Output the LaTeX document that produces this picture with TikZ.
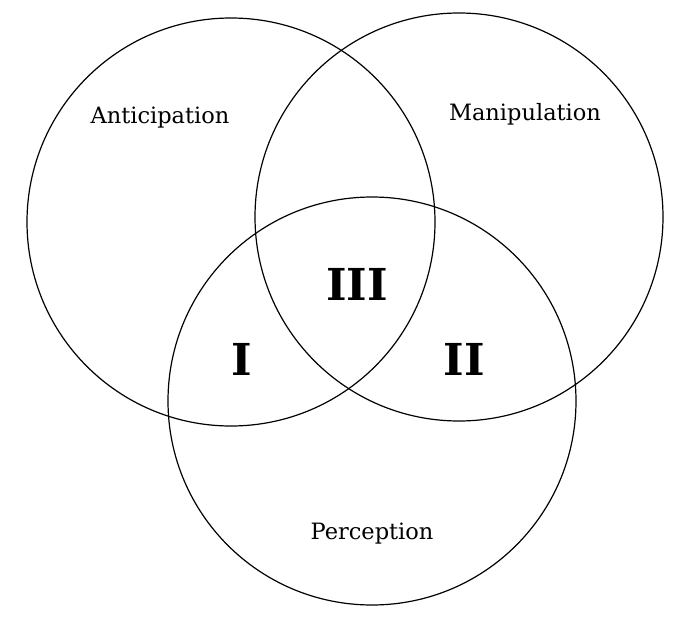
\documentclass[tikz,border=0pt]{standalone}
\usepackage{fontspec}
\setmainfont{DejaVu Serif}
\begin{document}
\begin{tikzpicture}[x=1pt,y=-1pt,
  venn/.style={draw=black,line width=1.2pt,circle,minimum size=408pt,inner sep=0pt},
  lbl/.style={font=\fontsize{22.5}{26}\selectfont},
  num/.style={font=\fontsize{44}{48}\selectfont\bfseries}]
\useasboundingbox (0,0) rectangle (682,621);
\node[venn] (A) at (231,222) {};
\node[venn] (M) at (459,217) {};
\node[venn] (P) at (372,401) {};
\node[lbl] (ta) at (160,118) {Anticipation};
\node[lbl] (tm) at (525,114) {Manipulation};
\node[lbl] (tp) at (372,534) {Perception};
\node[num] (n3) at (357,284) {III};
\node[num] (n1) at (242,359) {I};
\node[num] (n2) at (464,359) {II};
\end{tikzpicture}
\end{document}
